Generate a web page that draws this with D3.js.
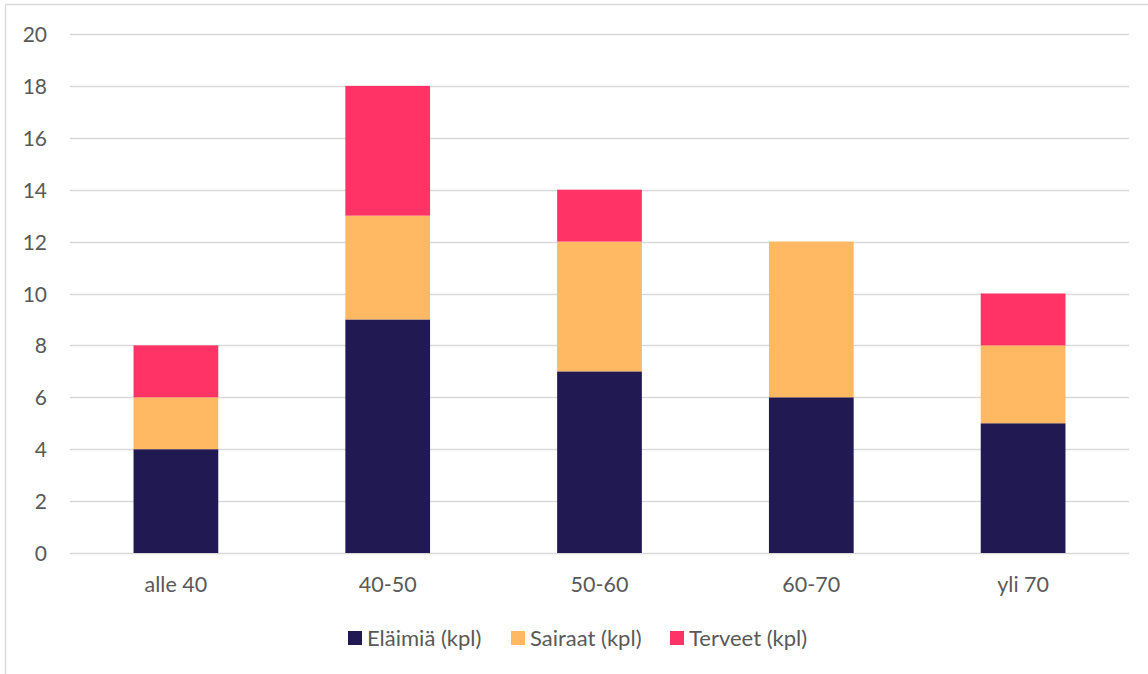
<!DOCTYPE html>
<html>
<head>
<meta charset="utf-8">
<script src="https://cdn.jsdelivr.net/npm/d3@7"></script>
<style>
html,body{margin:0;padding:0;background:#fff;}
svg{display:block;}
text{font-family:Lato,"Open Sans",sans-serif;fill:#595959;}
</style>
</head>
<body>
<svg id="chart" width="1148" height="674"></svg>
<script>
const categories = ["alle 40", "40-50", "50-60", "60-70", "yli 70"];
const seriesNames = ["Eläimiä (kpl)", "Sairaat (kpl)", "Terveet (kpl)"];
const elaimia = [4, 9, 7, 6, 5];
const sairaat = [2, 4, 5, 6, 3];
const terveet = [2, 5, 2, 0, 2];
const yTicks = [0, 2, 4, 6, 8, 10, 12, 14, 16, 18, 20];
const colors = ["#211951", "#FFB963", "#FF3366"];

const svg = d3.select("#chart");
const W = 1148, H = 674;

// chart border (top and left visible)
svg.append("line").attr("x1", 5.5).attr("x2", W).attr("y1", 4.5).attr("y2", 4.5)
  .attr("stroke", "#d9d9d9").attr("stroke-width", 1.5);
svg.append("line").attr("x1", 5.5).attr("x2", 5.5).attr("y1", 4.5).attr("y2", H)
  .attr("stroke", "#d9d9d9").attr("stroke-width", 1.5);

const plot = {left: 70, right: 1129, top: 34, bottom: 553};

const x = d3.scaleBand().domain(categories).range([plot.left, plot.right])
  .paddingInner(0.6).paddingOuter(0.3);
const y = d3.scaleLinear().domain([0, 20]).range([plot.bottom, plot.top]);

// gridlines
svg.append("g").selectAll("line").data(yTicks).join("line")
  .attr("x1", plot.left).attr("x2", plot.right)
  .attr("y1", d => Math.round(y(d)) + 0.5).attr("y2", d => Math.round(y(d)) + 0.5)
  .attr("stroke", "#d9d9d9").attr("stroke-width", 1.5);

// y axis labels
const yAxis = d3.axisLeft(y).tickValues(yTicks).tickSize(0).tickPadding(0);
const gy = svg.append("g").attr("transform", `translate(47,0)`).call(yAxis);
gy.select(".domain").remove();
gy.selectAll("text").attr("font-size", 21).style("font-family", "Lato").attr("fill", "#595959").attr("dy", "0.36em");

// x axis labels
const xAxis = d3.axisBottom(x).tickSize(0).tickPadding(0);
const gx = svg.append("g").attr("transform", `translate(0,${plot.bottom})`).call(xAxis);
gx.select(".domain").remove();
gx.selectAll("text").attr("font-size", 21.5).style("font-family", "Lato").attr("fill", "#595959").attr("y", 39).attr("dy", 0);

// stacked bars
const rows = categories.map((c, i) => ({cat: c, s0: elaimia[i], s1: sairaat[i], s2: terveet[i]}));
const stack = d3.stack().keys(["s0", "s1", "s2"]);
const stacked = stack(rows);

svg.append("g").selectAll("g").data(stacked).join("g")
  .attr("fill", (d, i) => colors[i])
  .selectAll("rect").data(d => d).join("rect")
  .attr("x", d => x(d.data.cat))
  .attr("width", x.bandwidth())
  .attr("y", d => y(d[1]))
  .attr("height", d => y(d[0]) - y(d[1]));

// legend
const legendItems = [
  {name: seriesNames[0], color: colors[0], x: 348},
  {name: seriesNames[1], color: colors[1], x: 511},
  {name: seriesNames[2], color: colors[2], x: 670}
];
const lg = svg.append("g");
const li = lg.selectAll("g").data(legendItems).join("g")
  .attr("transform", d => `translate(${d.x},631)`);
li.append("rect").attr("width", 14).attr("height", 14).attr("fill", d => d.color);
li.append("text").attr("x", 19).attr("y", 15).attr("font-size", 22).text(d => d.name);
</script>
</body>
</html>
